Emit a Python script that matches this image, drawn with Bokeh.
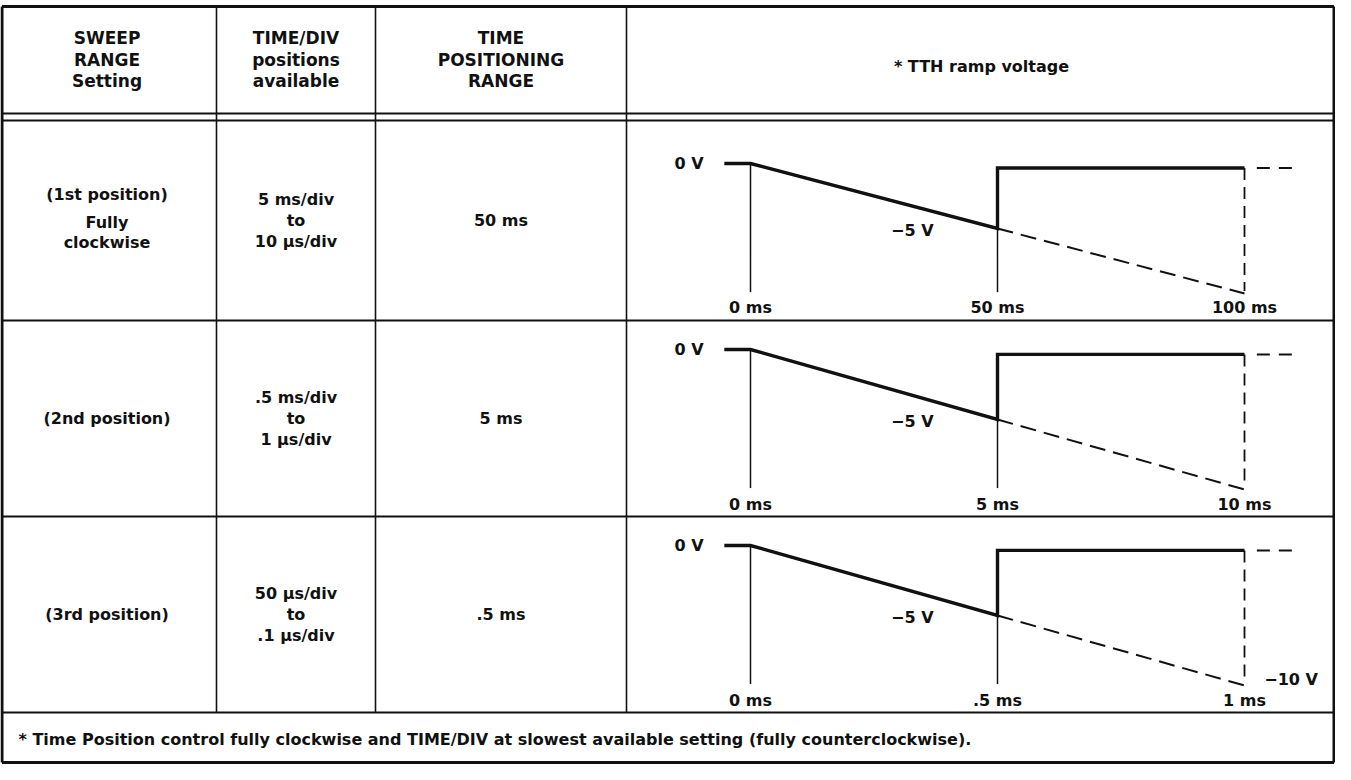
from bokeh.plotting import figure
from bokeh.models import Range1d
from bokeh.core.properties import value
from bokeh.embed import file_html
from bokeh.resources import INLINE

# ---------------- data ----------------
header_sweep = ["SWEEP", "RANGE", "Setting"]
header_timediv = ["TIME/DIV", "positions", "available"]
header_tpr = ["TIME", "POSITIONING", "RANGE"]
header_ramp = "* TTH ramp voltage"

sweep_settings = [["(1st position)", "Fully", "clockwise"], ["(2nd position)"], ["(3rd position)"]]
timediv_ranges = [["5 ms/div", "to", "10 \u03bcs/div"],
                  [".5 ms/div", "to", "1 \u03bcs/div"],
                  ["50 \u03bcs/div", "to", ".1 \u03bcs/div"]]
positioning_ranges = ["50 ms", "5 ms", ".5 ms"]

time_ticks = [[0, 50, 100], [0, 5, 10], [0, 0.5, 1]]
time_labels = [["0 ms", "50 ms", "100 ms"], ["0 ms", "5 ms", "10 ms"], ["0 ms", ".5 ms", "1 ms"]]

# TTH ramp (solid): time in ms, volts
ramp_t = [[-5.3, 0, 50, 50, 100], [-0.53, 0, 5, 5, 10], [-0.053, 0, 0.5, 0.5, 1]]
ramp_v = [0, 0, -5, -0.35, -0.35]
# ramp that would continue (dashed) from T to 2T
over_t = [[50, 100], [5, 10], [0.5, 1]]
over_v = [-5, -10]
# dashed tail after 2T
tail_t = [[102.5, 110], [10.25, 11], [1.025, 1.1]]
tail_v = [-0.35, -0.35]

footer = "*  Time Position control fully clockwise and TIME/DIV at slowest available setting (fully counterclockwise)."

# ---------------- layout (reference pixel space) ----------------
X_L, X_R, Y_T, Y_B = 9.5, 1341.5, 14, 770
COLS = [224, 383, 634]
HDR = [121, 128]
ROWS = [328, 524, 720]
row_bounds = [(128, 328), (328, 524), (524, 720)]
zero_v_y = [171, 357, 553]      # 0 V level of each diagram
px_per_v = [13, 14, 14]
T0_X, T2_X = 758, 1252

FONT = value("DejaVu Sans")

p = figure(width=1335, height=764, x_range=Range1d(8, 1343), y_range=Range1d(772, 8),
           x_axis_type=None, y_axis_type=None, toolbar_location=None,
           output_backend="svg", min_border=0)
p.grid.visible = False
p.outline_line_color = None
p.background_fill_color = "white"

INK = "#111111"

# table lines
p.segment(x0=[X_L, X_R, X_L, X_L], y0=[Y_T, Y_T, Y_T, Y_B], x1=[X_L, X_R, X_R, X_R], y1=[Y_B, Y_B, Y_T, Y_B],
          line_color=INK, line_width=3)
p.segment(x0=COLS, y0=[Y_T] * 3, x1=COLS, y1=[ROWS[-1]] * 3, line_color=INK, line_width=1.6)
p.segment(x0=[X_L] * 5, y0=HDR + ROWS, x1=[X_R] * 5, y1=HDR + ROWS, line_color=INK, line_width=1.8)

def txt(xs, ys, texts, align="center", size="16px", style="bold"):
    p.text(x=xs, y=ys, text=texts, text_font=FONT, text_font_size=size, text_font_style=style,
           text_align=align, text_baseline="middle", text_color=INK)

c1 = (5 + COLS[0]) / 2
c2 = (COLS[0] + COLS[1]) / 2
c3 = (COLS[1] + COLS[2]) / 2
c4 = (COLS[2] + 1344) / 2
hy = [45, 67, 88]
txt([c1] * 3, hy, header_sweep, size="17px")
txt([c2] * 3, hy, header_timediv, size="17px")
txt([c3] * 3, hy, header_tpr, size="17px")
txt([c4], [74], [header_ramp], size="16px")

for i in range(3):
    top, bot = row_bounds[i]
    mid = (top + bot) / 2
    s = sweep_settings[i]
    if len(s) == 3:
        txt([c1] * 3, [mid - 26, mid + 2, mid + 22], s)
    else:
        txt([c1], [mid], s)
    txt([c2] * 3, [mid - 21, mid, mid + 21], timediv_ranges[i])
    txt([c3], [mid], [positioning_ranges[i]])

    T = time_ticks[i][1]
    y0 = zero_v_y[i]
    sub = p.subplot(x_source=Range1d(0, 2 * T), y_source=Range1d(0, -10),
                    x_target=Range1d(T0_X, T2_X), y_target=Range1d(y0, y0 + 10 * px_per_v[i]))
    # thin verticals at 0 and T
    sub.segment(x0=[0, T], y0=[0, -5], x1=[0, T], y1=[-9.9, -9.9], line_color=INK, line_width=1.5)
    # dashed continuation
    sub.line(x=over_t[i], y=over_v, line_color=INK, line_width=2, line_dash="16 8")
    sub.segment(x0=[2 * T], y0=[-0.35], x1=[2 * T], y1=[-9.8], line_color=INK, line_width=1.8,
                line_dash="12 7")
    sub.line(x=tail_t[i], y=tail_v, line_color=INK, line_width=2, line_dash="13 9")
    # solid ramp
    sub.line(x=ramp_t[i], y=ramp_v, line_color=INK, line_width=3.4, line_join="miter")
    # labels
    sub.text(x=time_ticks[i], y=[-11.1] * 3, text=time_labels[i], text_font=FONT, text_font_size="16px",
             text_font_style="bold", text_align="center", text_baseline="middle", text_color=INK)
    sub.text(x=[-0.19 * T], y=[0], text=["0 V"], text_font=FONT, text_font_size="16px",
             text_font_style="bold", text_align="right", text_baseline="middle", text_color=INK)
    sub.text(x=[0.655 * T], y=[-5.15], text=["\u22125 V"], text_font=FONT, text_font_size="16px",
             text_font_style="bold", text_align="center", text_baseline="middle", text_color=INK)
    if i == 2:
        sub.text(x=[2.08 * T], y=[-9.6], text=["\u221210 V"], text_font=FONT, text_font_size="16px",
                 text_font_style="bold", text_align="left", text_baseline="middle", text_color=INK)

txt([26], [747], [footer], align="left", size="16px")

open("out.html", "w").write(file_html(p, INLINE))
